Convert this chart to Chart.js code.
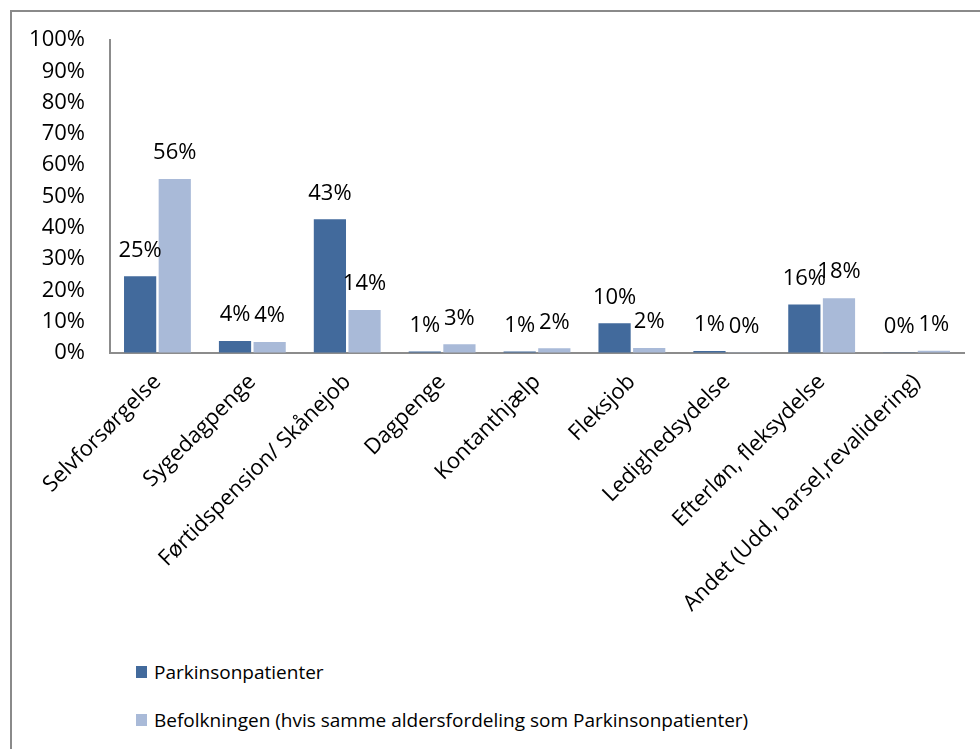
<!DOCTYPE html>
<html>
<head>
<meta charset="utf-8">
<script src="https://cdn.jsdelivr.net/npm/chart.js@4.4.1/dist/chart.umd.min.js"></script>
<style>
  html, body { margin: 0; padding: 0; background: #fff; }
  body { width: 980px; height: 749px; overflow: hidden; position: relative; font-family: "Open Sans", sans-serif; }
  #frame { position: absolute; left: 10px; top: 10px; width: 1000px; height: 800px;
           border-top: 2px solid #8a8a8a; border-left: 2px solid #8a8a8a; }
  #wrap { position: absolute; left: 12px; top: 12px; width: 968px; height: 630px; }
  #legend { position: absolute; left: 136px; top: 655px; font-size: 19px; color: #000; }
  #legend .item { display: flex; align-items: center; height: 34px; margin-bottom: 14px; }
  #legend .box { width: 11px; height: 12px; margin-right: 7px; }
</style>
</head>
<body>
<div id="frame"></div>
<div id="wrap"><canvas id="chart"></canvas></div>
<div id="legend"></div>
<script>
// ---------- Data ----------
const categories = [
  "Selvforsørgelse",
  "Sygedagpenge",
  "Førtidspension/ Skånejob",
  "Dagpenge",
  "Kontanthjælp",
  "Fleksjob",
  "Ledighedsydelse",
  "Efterløn, fleksydelse",
  "Andet (Udd, barsel,revalidering)"
];
const parkinson = [24.5, 3.8, 42.7, 0.5, 0.5, 9.5, 0.6, 15.5, 0.2]; // %
const befolkning = [55.6, 3.5, 13.7, 2.8, 1.5, 1.6, 0.1, 17.5, 0.7]; // %
const seriesNames = [
  "Parkinsonpatienter",
  "Befolkningen (hvis samme aldersfordeling som Parkinsonpatienter)"
];
const yTicks = [0, 10, 20, 30, 40, 50, 60, 70, 80, 90, 100];

const darkBlue = "#426A9C";
const lightBlue = "#A9BAD8";
const axisGrey = "#8c8c8c";
const font = "'Open Sans', sans-serif";

// ---------- Value labels above bars ----------
const barLabels = {
  id: "barLabels",
  afterDatasetsDraw(chart) {
    const ctx = chart.ctx;
    ctx.save();
    ctx.font = "22px " + font;
    ctx.fillStyle = "#000";
    ctx.textAlign = "center";
    ctx.textBaseline = "middle";
    chart.data.datasets.forEach((ds, i) => {
      chart.getDatasetMeta(i).data.forEach((bar, j) => {
        ctx.fillText(Math.round(ds.data[j]) + "%", bar.x, bar.y - 26);
      });
    });
    ctx.restore();
  }
};

const chart = new Chart(document.getElementById("chart"), {
  type: "bar",
  data: {
    labels: categories,
    datasets: [
      { label: seriesNames[0], data: parkinson, backgroundColor: darkBlue },
      { label: seriesNames[1], data: befolkning, backgroundColor: lightBlue }
    ]
  },
  options: {
    responsive: true,
    maintainAspectRatio: false,
    animation: false,
    datasets: { bar: { categoryPercentage: 0.73, barPercentage: 0.93 } },
    layout: { padding: { top: 28, right: 16, left: 0, bottom: 0 } },
    plugins: {
      legend: { display: false },
      tooltip: { enabled: false }
    },
    scales: {
      x: {
        grid: { display: false, drawTicks: false },
        border: { display: true, color: axisGrey, width: 2 },
        ticks: {
          color: "#000",
          font: { family: font, size: 22 },
          minRotation: 45,
          maxRotation: 45,
          padding: 16
        },
        afterFit: (scale) => { scale.height = 289; }
      },
      y: {
        min: 0,
        max: 100,
        // invisible tick marks give the gap between labels and axis line
        grid: { display: true, drawOnChartArea: false, drawTicks: true, tickLength: 24, tickColor: "rgba(0,0,0,0)" },
        border: { display: true, color: axisGrey, width: 2 },
        afterBuildTicks: (scale) => { scale.ticks = yTicks.map((v) => ({ value: v })); },
        ticks: {
          color: "#000",
          font: { family: font, size: 22 },
          padding: 1,
          callback: (v) => v + "%"
        },
        afterFit: (scale) => { scale.width = 98; }
      }
    }
  },
  plugins: [barLabels]
});

// ---------- Legend (vertical, below the axis labels) ----------
const legendEl = document.getElementById("legend");
chart.data.datasets.forEach((ds) => {
  const item = document.createElement("div");
  item.className = "item";
  const box = document.createElement("span");
  box.className = "box";
  box.style.background = ds.backgroundColor;
  const txt = document.createElement("span");
  txt.textContent = ds.label;
  item.appendChild(box);
  item.appendChild(txt);
  legendEl.appendChild(item);
});
</script>
</body>
</html>
